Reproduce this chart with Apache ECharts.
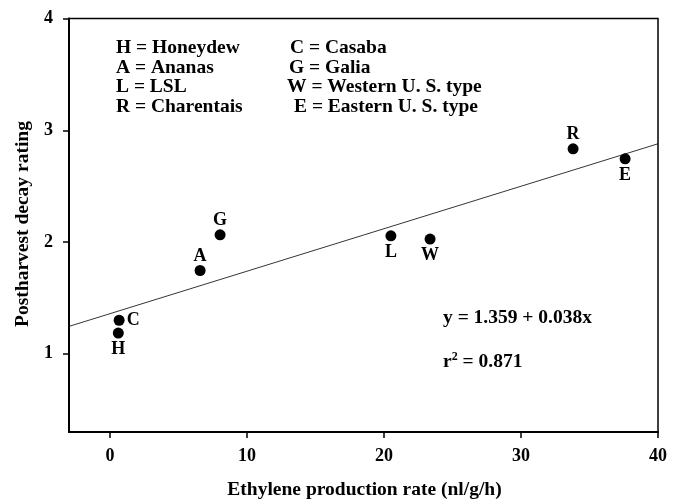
<!DOCTYPE html>
<html><head><meta charset="utf-8">
<script src="https://cdn.jsdelivr.net/npm/echarts@6/dist/echarts.min.js"></script>
<style>html,body{margin:0;padding:0;background:#fff}#c{width:680px;height:502px}</style>
</head><body><div id="c"></div>
<script>
const codes = ['H','C','A','G','L','W','R','E'];
const ethylene = [0.6, 0.66, 6.57, 8.03, 20.5, 23.36, 33.8, 37.6];
const decay = [1.185, 1.30, 1.745, 2.064, 2.055, 2.026, 2.834, 2.744];
const labelPos = ['bottom','right','top','top','bottom','bottom','top','bottom'];
const xTicks = [0, 10, 20, 30, 40];
const yTicks = [1, 2, 3, 4];
const xRange = [-3, 40];
const yRange = [0.3, 4];
const intercept = 1.359, slope = 0.038;
const legendLeft = ['H = Honeydew','A = Ananas','L = LSL','R = Charentais'];
const legendRight = ['C = Casaba','G = Galia','W = Western U. S. type','E = Eastern U. S. type'];
const xTitle = 'Ethylene production rate (nl/g/h)';
const yTitle = 'Postharvest decay rating';

const F = '"Liberation Serif", "Times New Roman", serif';
const FS = 19.5;
const chart = echarts.init(document.getElementById('c'));
const rightX = [290, 289, 287, 294];
const graphic = [];
function txt(t, x, y, align) {
  return {type:'text', x:x, y:y,
    style:{text:t, font:'bold '+FS+'px '+F, fill:'#000', textAlign:align||'left', textVerticalAlign:'middle'}};
}
legendLeft.forEach((t,i)=>graphic.push(txt(t, 116, 48 + i*19.7)));
legendRight.forEach((t,i)=>graphic.push(txt(t, rightX[i], 48 + i*19.7)));
graphic.push(txt('y = 1.359 + 0.038x', 443, 318));
graphic.push({type:'text', x:443, y:362, style:{textVerticalAlign:'middle',
  rich:{a:{font:'bold '+FS+'px '+F, fill:'#000'}, s:{font:'bold 12px '+F, fill:'#000', padding:[0,0,10,0]}},
  text:'{a|r}{s|2}{a| = 0.871}'}});
graphic.push(txt(xTitle, 364.5, 490, 'center'));
graphic.push({type:'text', x:23, y:224, rotation:Math.PI/2,
  style:{text:yTitle, font:'bold '+FS+'px '+F, fill:'#000', textAlign:'center', textVerticalAlign:'middle'}});

chart.setOption({
  animation:false,
  grid: {show:true, borderColor:'#000', borderWidth:1.5, left:69, right:22, top:18.5, bottom:70},
  xAxis: {type:'value', min:xRange[0], max:xRange[1],
    axisLine:{show:true, onZero:false, lineStyle:{color:'#000', width:2}},
    axisTick:{show:true, length:6, lineStyle:{color:'#000', width:1.5}, customValues:xTicks},
    axisLabel:{fontFamily:F, fontWeight:'bold', fontSize:18, color:'#000', margin:15, customValues:xTicks},
    splitLine:{show:false}},
  yAxis: {type:'value', min:yRange[0], max:yRange[1],
    axisLine:{show:true, onZero:false, lineStyle:{color:'#000', width:2}},
    axisTick:{show:true, length:6, lineStyle:{color:'#000', width:1.5}, customValues:yTicks},
    axisLabel:{fontFamily:F, fontWeight:'bold', fontSize:18, color:'#000', margin:16, customValues:yTicks},
    splitLine:{show:false}},
  series: [
    {type:'line', data:xRange.map(x=>[x, intercept+slope*x]), symbol:'none',
     lineStyle:{color:'#000', width:0.8}, silent:true},
    {type:'scatter', symbolSize:11, itemStyle:{color:'#000', opacity:1},
     data: codes.map((c,i)=>({value:[ethylene[i], decay[i]], name:c,
       label:{show:true, position:labelPos[i], formatter:c, distance:labelPos[i]==='top'?0:2,
         fontFamily:F, fontWeight:'bold', fontSize:18, color:'#000'}}))}
  ],
  graphic: graphic
});
</script></body></html>
